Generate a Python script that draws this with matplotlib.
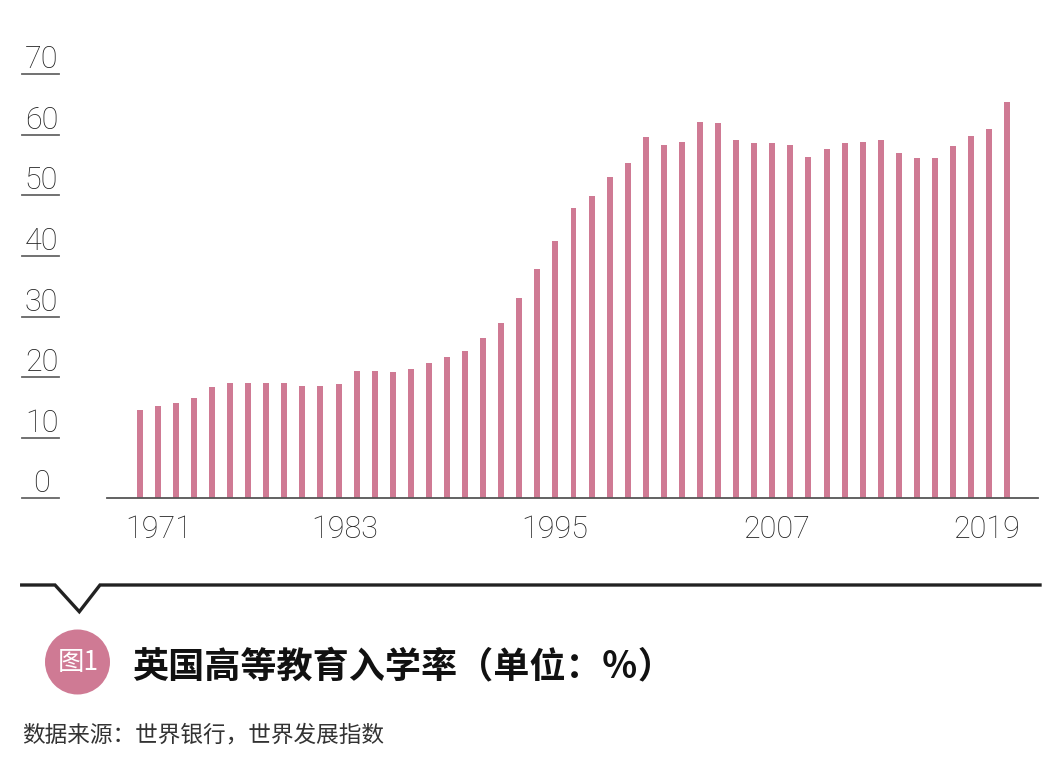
import matplotlib
matplotlib.use("Agg")
import matplotlib.pyplot as plt
from matplotlib.transforms import blended_transform_factory
from matplotlib.lines import Line2D
from matplotlib.patches import Circle

plt.rcParams['font.family'] = ['Noto Sans CJK SC', 'DejaVu Sans']

# ---- data ----
years = list(range(1971, 2020))
values = [14.6, 15.3, 15.8, 16.6, 18.3, 19.1, 19.1, 19.1, 19.1, 18.6,
          18.6, 18.9, 21.0, 21.0, 20.9, 21.3, 22.3, 23.3, 24.3, 26.4,
          29.0, 33.0, 37.8, 42.5, 48.0, 49.9, 53.0, 55.4, 59.7, 58.3,
          58.8, 62.1, 61.9, 59.1, 58.7, 58.7, 58.3, 56.4, 57.6, 58.7,
          58.9, 59.2, 57.0, 56.2, 56.2, 58.1, 59.8, 61.0, 65.4]
x_labels = ["1971", "1983", "1995", "2007", "2019"]
y_ticks = [0, 10, 20, 30, 40, 50, 60, 70]
title = "英国高等教育入学率（单位：％）"
badge = "图1"
source = "数据来源：世界银行，世界发展指数"

# ---- layout ----
W, H = 1056, 767
BAR_COLOR = "#CF7A94"
x_label_pos = [1972.07, 1982.36, 1993.98, 2006.26, 2017.88]
num_font = dict(family=['Roboto', 'DejaVu Sans'], weight='light')

fig = plt.figure(figsize=(W / 100, H / 100), dpi=100)
ax = fig.add_axes([107 / W, 1 - 498.3 / H, (1038 - 107) / W, (498.3 - 74.3) / H])

ax.bar(years, values, width=0.33, color=BAR_COLOR, zorder=2)
ax.set_xlim(1969.19, 2020.70)
ax.set_ylim(0, 70)

for s in ['top', 'right', 'left']:
    ax.spines[s].set_visible(False)
ax.spines['bottom'].set_color('#555555')
ax.spines['bottom'].set_linewidth(1.3)
ax.set_yticks([])
ax.set_xticks(x_label_pos)
ax.set_xticklabels(x_labels, fontsize=22, color='#222222', **num_font)
ax.tick_params(axis='x', length=0, pad=12)

# y labels with underlines, outside the axes
tr = blended_transform_factory(fig.transFigure, ax.transData)
for v in y_ticks:
    ax.plot([21.7 / W, 59.3 / W], [v, v], transform=tr, color='#666666',
            lw=1.3, clip_on=False)
    ax.annotate(str(v), xy=(41.5 / W, v), xycoords=tr, xytext=(0, 4.3),
                textcoords='offset points', ha='center', va='baseline',
                fontsize=22, color='#222222', annotation_clip=False, **num_font)

# divider with notch
px = [21.7, 55, 79.3, 100, 1040]
py = [585, 585, 611.7, 585, 585]
fig.add_artist(Line2D([p / W for p in px], [1 - p / H for p in py],
                      transform=fig.transFigure, color='#222222', lw=2.4,
                      solid_joinstyle='miter'))

# badge circle
fig.add_artist(Circle((0.775, (H - 662) / 100), 0.325, transform=fig.dpi_scale_trans,
                      facecolor=BAR_COLOR, edgecolor='none'))
fig.text(78 / W, 1 - 663 / H, badge, ha='center', va='center', color='white',
         fontsize=19, weight='light')

fig.text(131.7 / W, 1 - 666.5 / H, title, ha='left', va='center', color='#111111',
         fontsize=26, weight='bold')
fig.text(22 / W, 1 - 735 / H, source, ha='left', va='center', color='#333333',
         fontsize=16.3)

fig.savefig("out.png", dpi=100)
